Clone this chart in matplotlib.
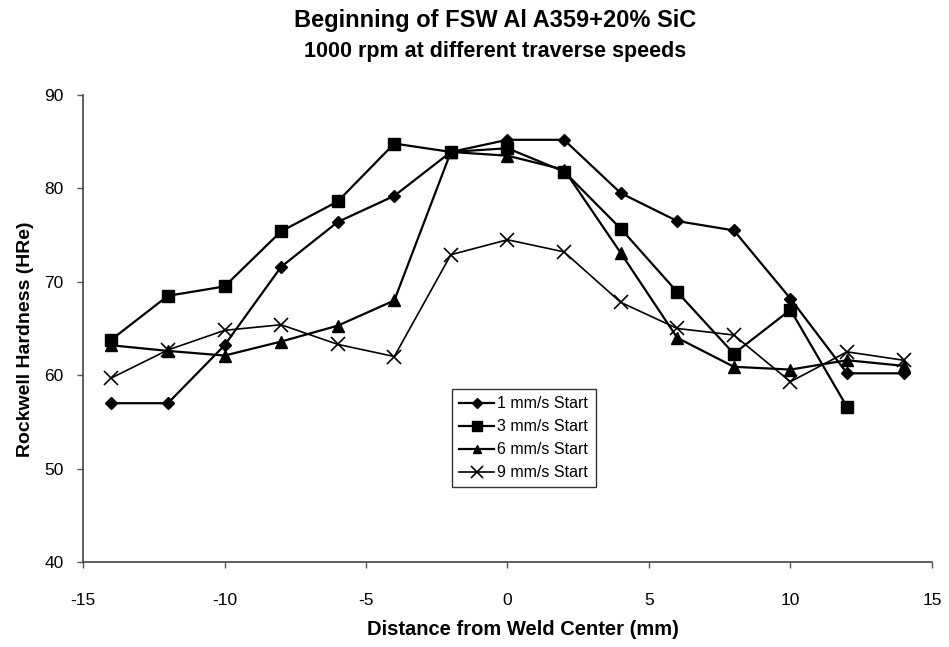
import matplotlib.pyplot as plt

plt.rcParams['font.family'] = ['Liberation Sans', 'DejaVu Sans']
plt.rcParams['axes.unicode_minus'] = False

# Data
x_all = [-14, -12, -10, -8, -6, -4, -2, 0, 2, 4, 6, 8, 10, 12, 14]
hr_1 = [57.0, 57.0, 63.2, 71.6, 76.4, 79.2, 83.9, 85.2, 85.2, 79.5, 76.5, 75.5, 68.2, 60.2, 60.2]
x_3 = [-14, -12, -10, -8, -6, -4, -2, 0, 2, 4, 6, 8, 10, 12]
hr_3 = [63.8, 68.5, 69.5, 75.4, 78.6, 84.8, 83.9, 84.3, 81.8, 75.7, 68.9, 62.3, 67.0, 56.6]
hr_6 = [63.2, 62.6, 62.1, 63.6, 65.3, 68.0, 83.9, 83.5, 82.0, 73.1, 64.0, 60.9, 60.6, 61.6, 61.0]
hr_9 = [59.7, 62.7, 64.8, 65.4, 63.3, 62.0, 72.9, 74.5, 73.2, 67.8, 65.0, 64.3, 59.3, 62.5, 61.6]

fig = plt.figure(figsize=(9.49, 6.47), dpi=100)
ax = fig.add_axes([0.0875, 0.1314, 0.8945, 0.7218])

lw = 1.6
ax.plot(x_all, hr_1, color='black', lw=lw, marker='D', ms=6, label='1 mm/s Start')
ax.plot(x_3, hr_3, color='black', lw=lw, marker='s', ms=9, label='3 mm/s Start')
ax.plot(x_all, hr_6, color='black', lw=lw, marker='^', ms=8, label='6 mm/s Start')
ax.plot(x_all, hr_9, color='black', lw=1.2, marker='x', ms=10, mew=1.2, label='9 mm/s Start')

ax.set_xlim(-15, 15)
ax.set_ylim(40, 90)
ax.set_xticks([-15, -10, -5, 0, 5, 10, 15])
ax.set_yticks([40, 50, 60, 70, 80, 90])
ax.tick_params(labelsize=12.5, length=4, width=1, color='#555555')
ax.tick_params(axis='x', pad=18)
ax.tick_params(axis='y', pad=10)

for side in ['top', 'right']:
    ax.spines[side].set_visible(False)
for side in ['left', 'bottom']:
    ax.spines[side].set_color('#444444')
    ax.spines[side].set_linewidth(1.2)

ax.set_xlabel('Distance from Weld Center (mm)', fontsize=14.5, fontweight='bold')
ax.xaxis.set_label_coords(0.518, -0.124)
ax.set_ylabel('Rockwell Hardness (HRe)', fontsize=14, fontweight='bold')
ax.yaxis.set_label_coords(-0.058, 0.4775)

fig.text(0.5216, 0.969, 'Beginning of FSW Al A359+20% SiC', ha='center', va='center',
         fontsize=17, fontweight='bold')
fig.text(0.5216, 0.920, '1000 rpm at different traverse speeds', ha='center', va='center',
         fontsize=15.5, fontweight='bold')

leg = ax.legend(loc='upper left', bbox_to_anchor=(0.4346, 0.3705), borderaxespad=0,
                fontsize=11.5, frameon=True, fancybox=False, handlelength=2.2,
                handletextpad=0.2, borderpad=0.45, labelspacing=0.5, markerscale=0.8)
leg.get_frame().set_edgecolor('black')
leg.get_frame().set_linewidth(1.0)

fig.savefig('out.png', dpi=100)
